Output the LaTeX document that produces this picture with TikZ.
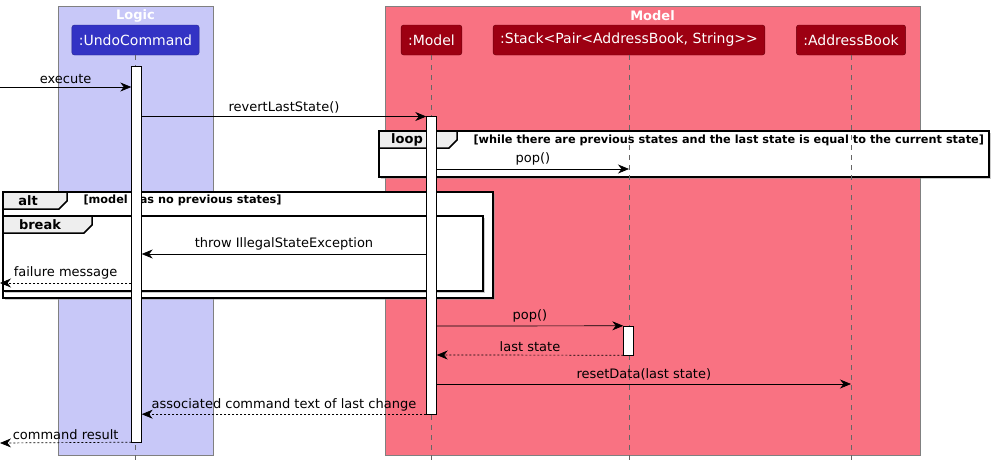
\documentclass[tikz,border=0pt]{standalone}
\usepackage{fontspec}
\setmainfont{DejaVu Sans}
\usetikzlibrary{arrows.meta,shadows}
\definecolor{logicbg}{RGB}{200,200,248}
\definecolor{modelbg}{RGB}{249,114,130}
\definecolor{logicfg}{RGB}{51,51,196}
\definecolor{modelfg}{RGB}{157,0,18}
\definecolor{tabgray}{RGB}{238,238,238}

\begin{document}
\begin{tikzpicture}[x=1pt,y=-1pt,
  pnode/.style={draw=#1!70!black,fill=#1,rounded corners=2.5pt,text=white,font=\fontsize{14}{16}\selectfont,minimum height=30pt,inner xsep=7pt,inner ysep=0pt},
  anode/.style={draw,fill=white,minimum width=10pt,inner sep=0pt},
  life/.style={draw=black!60,dash pattern=on 5pt off 5pt,line width=0.6pt},
  msg/.style={-{Stealth[length=11pt,width=9pt,inset=3.5pt]},line width=0.7pt},
  ret/.style={msg,dash pattern=on 2pt off 2pt},
  lbl/.style={above=2.5pt,inner sep=0.5pt,font=\fontsize{13}{15}\selectfont},
  frame/.style={draw,line width=1.5pt,fill=white,drop shadow={shadow xshift=2pt,shadow yshift=-2pt,fill=black!40,opacity=0.5}},
  tab/.style={draw,line width=1.5pt,fill=tabgray},
  gtitle/.style={font=\bfseries\fontsize{13}{15}\selectfont},
  gcond/.style={font=\bfseries\fontsize{11.3}{13}\selectfont,anchor=west}]
    \useasboundingbox (0,0) rectangle (994,467);

    % packages
    \draw[draw=black!50,fill=logicbg] (58,6) rectangle (213,455);
    \node[gtitle,text=white] (logic) at (135.5,15.5) {Logic};
    \draw[draw=black!50,fill=modelbg] (385,6) rectangle (920,455);
    \node[gtitle,text=white] (modelpkg) at (652.5,15.5) {Model};

    % participants
    \node[pnode=logicfg] (undo) at (135.5,40) {:UndoCommand};
    \node[pnode=modelfg] (model) at (431.5,40) {:Model};
    \node[pnode=modelfg] (stack) at (629,40) {:Stack<Pair<AddressBook, String>{}>};
    \node[pnode=modelfg] (book) at (851,40) {:AddressBook};

    % groups
    \draw[frame] (379,131) rectangle (989,177);
    \draw[frame] (3,192) rectangle (493,298);
    \draw[frame] (3,216) rectangle (483,291);

    % lifelines
    \coordinate (end) at (0,462);
    \draw[life] (undo) -- (undo |- end);
    \draw[life] (model) -- (model |- end);
    \draw[life] (stack) -- (stack |- end);
    \draw[life] (book) -- (book |- end);

    \draw[tab] (379,131) -- (457,131) -- (457,140) -- (449,148) -- (379,148) -- cycle;
    \node[gtitle] (loopT) at (407,140) {loop};
    \node[gcond] (loopC) at (470,140) {[while there are previous states and the last state is equal to the current state]};
    \draw[tab] (3,192) -- (67,192) -- (67,201) -- (59,209) -- (3,209) -- cycle;
    \node[gtitle] (altT) at (28,201) {alt};
    \node[gcond] (altC) at (80,200) {[model has no previous states]};
    \draw[tab] (3,216) -- (92,216) -- (92,225) -- (84,233) -- (3,233) -- cycle;
    \node[gtitle] (breakT) at (40,225) {break};

    % activations
    \node[anode,minimum height=376pt] (undoAct) at (136.5,254) {};
    \node[anode,minimum height=297.5pt] (modelAct) at (431.5,265.25) {};
    \node[anode,minimum height=29pt] (stackAct) at (628.5,340.5) {};

    % messages
    \coordinate (r1) at (0,87);
    \coordinate (r2) at (0,116.5);
    \coordinate (r3) at (0,169);
    \coordinate (r4) at (0,254);
    \coordinate (r5) at (0,283);
    \coordinate (r6) at (0,326);
    \coordinate (r7) at (0,355);
    \coordinate (r8) at (0,384);
    \coordinate (r10) at (0,443);

    \draw[msg] (r1) -- (undoAct.west |- r1) node[lbl,midway] {execute};
    \draw[msg] (undoAct.east |- r2) -- (modelAct.west |- r2) node[lbl,midway] {revertLastState()};
    \draw[msg] (modelAct.east |- r3) -- (stack |- r3) node[lbl,midway] {pop()};
    \draw[msg] (modelAct.west |- r4) -- (undoAct.east |- r4) node[lbl,midway] {throw IllegalStateException};
    \draw[ret] (undoAct.west |- r5) -- (r5) node[lbl,midway] {failure message};
    \draw[msg] (modelAct.east |- r6) -- (stackAct.north west) node[lbl,midway] {pop()};
    \draw[ret] (stackAct.south west) -- (modelAct.east |- r7) node[lbl,midway] {last state};
    \draw[msg] (modelAct.east |- r8) -- (book |- r8) node[lbl,midway] {resetData(last state)};
    \draw[ret] (modelAct.south west) -- (undoAct.east |- modelAct.south) node[lbl,midway] {associated command text of last change};
    \draw[ret] (undoAct.south west) -- (r10) node[lbl,midway] {command result};
\end{tikzpicture}
\end{document}
